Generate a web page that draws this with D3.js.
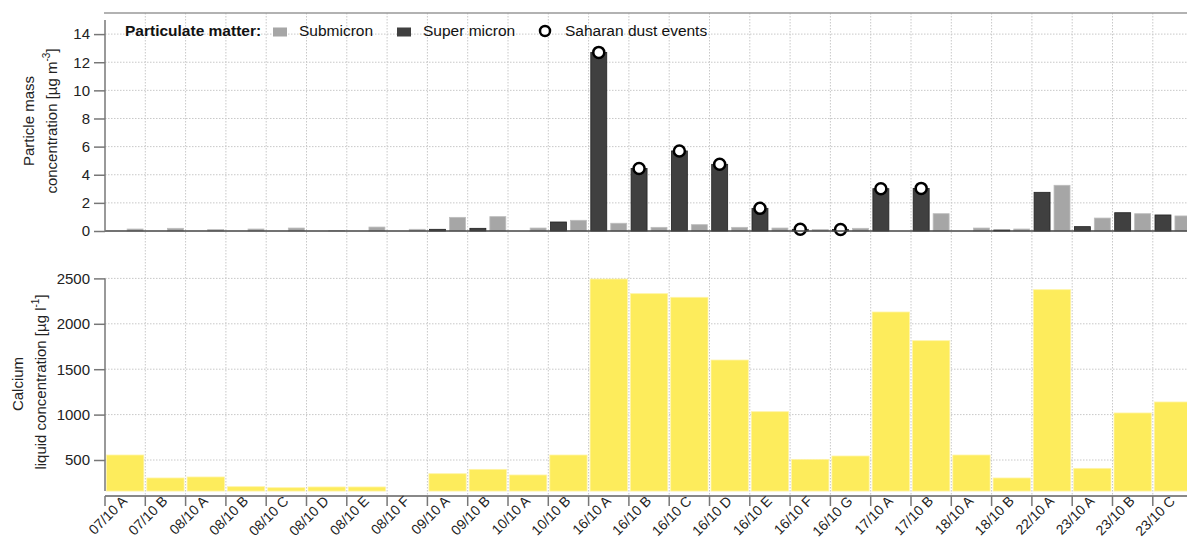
<!DOCTYPE html>
<html>
<head>
<meta charset="utf-8">
<script src="https://cdn.jsdelivr.net/npm/d3@7"></script>
<style>
  body { margin: 0; background: #fff; }
  svg { font-family: "Liberation Sans", Arial, sans-serif; }
  .grid line { stroke: #c8c8c8; stroke-dasharray: 1.5,1.5; }
</style>
</head>
<body>
<script>
// sample labels
const categories = ['07/10 A', '07/10 B', '08/10 A', '08/10 B', '08/10 C', '08/10 D', '08/10 E', '08/10 F',
    '09/10 A', '09/10 B', '10/10 A', '10/10 B', '16/10 A', '16/10 B', '16/10 C', '16/10 D', '16/10 E',
    '16/10 F', '16/10 G', '17/10 A', '17/10 B', '18/10 A', '18/10 B', '22/10 A', '23/10 A', '23/10 B', '23/10 C'];

// particle mass [ug m-3]
const superMicron = [0, 0, 0, 0, 0, 0, 0, 0, 0.12, 0.19, 0, 0.64, 12.7, 4.45, 5.69, 4.74, 1.61,
    0.12, 0.1, 3.01, 3.03, 0, 0.07, 2.75, 0.31, 1.3, 1.14];
const subMicron = [0.14, 0.19, 0.1, 0.14, 0.21, 0.02, 0.28, 0.12, 0.97, 1.02, 0.21, 0.76, 0.55, 0.26, 0.45, 0.26, 0.21,
    0.1, 0.19, 0, 1.23, 0.21, 0.14, 3.25, 0.92, 1.23, 1.07];
// saharan dust events (1 = yes)
const dustEvents = [0, 0, 0, 0, 0, 0, 0, 0, 0, 0, 0, 0, 1, 1, 1, 1, 1, 1, 1, 1, 1, 0, 0, 0, 0, 0, 0];

// calcium liquid concentration [ug l-1]
const calcium = [555, 302, 313, 206, 195, 203, 203, 158, 349, 397, 335, 555, 2493, 2332, 2292, 1601, 1032,
    507, 544, 2130, 1814, 555, 302, 2376, 408, 1018, 1139];

const pmTicks = [0, 2, 4, 6, 8, 10, 12, 14];
const caTicks = [500, 1000, 1500, 2000, 2500];

const W = 1187, H = 540;
const left = 105;
const step = 40.3;

const svg = d3.select(document.body)
    .append('svg')
    .attr('width', W)
    .attr('height', H);

const x = d3.scaleBand()
    .domain(categories)
    .range([left, left + step * categories.length])
    .paddingInner(0.075)
    .paddingOuter(0.0375);
const off = (x.step() - x.bandwidth()) / 2;
const boundary = function(c){ return x(c) - off; };

const x1 = d3.scaleBand()
    .domain(['super', 'sub'])
    .range([0, x.step()])
    .paddingInner(0.2)
    .paddingOuter(0.11);

const yTop = d3.scaleLinear().domain([0, 15.5]).range([231, 13]);
const yBot = d3.scaleLinear().domain([0, 2500]).range([505.4, 278.4]);
const caBase = yBot(d3.min(calcium));

// grid
const grid = svg.append('g').attr('class', 'grid');
grid.selectAll('.v')
    .data(categories.slice(1))
    .enter().append('line')
    .attr('x1', boundary).attr('x2', boundary)
    .attr('y1', yTop(15.5)).attr('y2', 496);
grid.selectAll('.ht')
    .data(pmTicks.slice(1))
    .enter().append('line')
    .attr('x1', left).attr('x2', W)
    .attr('y1', function(d){ return yTop(d); })
    .attr('y2', function(d){ return yTop(d); });
grid.selectAll('.hb')
    .data(caTicks)
    .enter().append('line')
    .attr('x1', left).attr('x2', W)
    .attr('y1', function(d){ return yBot(d); })
    .attr('y2', function(d){ return yBot(d); });

// top frame line
svg.append('line')
    .attr('x1', left - 1).attr('x2', W)
    .attr('y1', yTop(15.5)).attr('y2', yTop(15.5))
    .attr('stroke', '#999').attr('stroke-width', 1.5);

// top panel bars
const pm = svg.append('g');
pm.selectAll('.sup')
    .data(categories)
    .enter().append('rect')
    .attr('x', function(d){ return boundary(d) + x1('super'); })
    .attr('width', x1.bandwidth())
    .attr('y', function(d, i){ return yTop(superMicron[i]); })
    .attr('height', function(d, i){ return yTop(0) - yTop(superMicron[i]); })
    .attr('fill', '#404040')
    .attr('stroke', '#222')
    .attr('stroke-width', 0.8);
pm.selectAll('.sub')
    .data(categories)
    .enter().append('rect')
    .attr('x', function(d){ return boundary(d) + x1('sub'); })
    .attr('width', x1.bandwidth())
    .attr('y', function(d, i){ return yTop(subMicron[i]); })
    .attr('height', function(d, i){ return yTop(0) - yTop(subMicron[i]); })
    .attr('fill', '#a6a6a6')
    .attr('stroke', '#bdbdbd')
    .attr('stroke-width', 0.8);

// baseline
svg.append('line')
    .attr('x1', left).attr('x2', W)
    .attr('y1', yTop(0)).attr('y2', yTop(0))
    .attr('stroke', '#444').attr('stroke-width', 1.5);

// dust circles
pm.selectAll('circle')
    .data(categories.filter(function(d, i){ return dustEvents[i]; }))
    .enter().append('circle')
    .attr('cx', function(d){ return boundary(d) + x1('super') + x1.bandwidth() / 2; })
    .attr('cy', function(d){ return yTop(superMicron[categories.indexOf(d)]); })
    .attr('r', 5.5)
    .attr('fill', '#fff')
    .attr('stroke', '#000')
    .attr('stroke-width', 2.5);

// top y axis
const axTop = svg.append('g')
    .attr('transform', 'translate(' + left + ',0)')
    .call(d3.axisLeft(yTop).tickValues(pmTicks).tickSize(11).tickPadding(4).tickFormat(d3.format('d')));
axTop.select('.domain').remove();
axTop.append('line')
    .attr('y1', yTop(0)).attr('y2', yTop(15))
    .attr('stroke', '#777').attr('stroke-width', 1.5);

// bottom bars
svg.append('g').selectAll('rect')
    .data(categories)
    .enter().append('rect')
    .attr('x', function(d){ return x(d); })
    .attr('width', x.bandwidth())
    .attr('y', function(d, i){ return yBot(calcium[i]); })
    .attr('height', function(d, i){ return caBase - yBot(calcium[i]); })
    .attr('fill', '#fdec5c')
    .attr('stroke', '#fff4a6')
    .attr('stroke-width', 0.8);

// bottom y axis
const axBot = svg.append('g')
    .attr('transform', 'translate(' + left + ',0)')
    .call(d3.axisLeft(yBot).tickValues(caTicks).tickSize(11).tickPadding(4).tickFormat(d3.format('d')));
axBot.select('.domain').remove();
axBot.append('line')
    .attr('y1', caBase).attr('y2', yBot(2500))
    .attr('stroke', '#777').attr('stroke-width', 1.5);

// x axis
const xAxis = svg.append('g').attr('transform', 'translate(0,496)');
xAxis.append('line')
    .attr('x1', left).attr('x2', W)
    .attr('stroke', '#888').attr('stroke-width', 2);
xAxis.selectAll('.tk')
    .data(categories)
    .enter().append('line')
    .attr('x1', boundary).attr('x2', boundary)
    .attr('y1', 0).attr('y2', 10)
    .attr('stroke', '#777').attr('stroke-width', 1.5);
xAxis.selectAll('text')
    .data(categories)
    .enter().append('text')
    .attr('transform', function(d){
        return 'translate(' + (x(d) + x.bandwidth() / 2 + 3) + ',6) rotate(-45)';
    })
    .attr('text-anchor', 'end')
    .attr('font-size', 14)
    .attr('fill', '#222')
    .text(function(d){ return d; });

svg.selectAll('.tick line').attr('stroke', '#777').attr('stroke-width', 1.5);
svg.selectAll('.tick text').attr('font-size', 15).attr('fill', '#222')
    .attr('font-family', '"Liberation Sans", Arial, sans-serif');

// axis titles
function yTitle(cx, cy){
    return svg.append('text')
        .attr('transform', 'translate(' + cx + ',' + cy + ') rotate(-90)')
        .attr('text-anchor', 'middle')
        .attr('font-size', 15)
        .attr('fill', '#222');
}
yTitle(34, 121).text('Particle mass');
const t2 = yTitle(57, 121);
t2.append('tspan').text('concentration [µg m');
t2.append('tspan').attr('font-size', 10).attr('dy', -7).text('-3');
t2.append('tspan').attr('dy', 7).text(']');

yTitle(23, 384).text('Calcium');
const t4 = yTitle(46, 382);
t4.append('tspan').text('liquid concentration [µg l');
t4.append('tspan').attr('font-size', 10).attr('dy', -7).text('-1');
t4.append('tspan').attr('dy', 7).text(']');

// legend
const lg = svg.append('g').attr('font-size', 15.5).attr('fill', '#111');
lg.append('text').attr('x', 125).attr('y', 36).attr('font-weight', 'bold').text('Particulate matter:');
lg.append('rect').attr('x', 273).attr('y', 27.5).attr('width', 14).attr('height', 9).attr('fill', '#a6a6a6');
lg.append('text').attr('x', 299).attr('y', 36).text('Submicron');
lg.append('rect').attr('x', 397).attr('y', 27.5).attr('width', 14).attr('height', 9).attr('fill', '#404040');
lg.append('text').attr('x', 423).attr('y', 36).text('Super micron');
lg.append('circle').attr('cx', 545).attr('cy', 31).attr('r', 5)
    .attr('fill', '#fff').attr('stroke', '#000').attr('stroke-width', 2.5);
lg.append('text').attr('x', 565).attr('y', 36).text('Saharan dust events');
</script>
</body>
</html>
